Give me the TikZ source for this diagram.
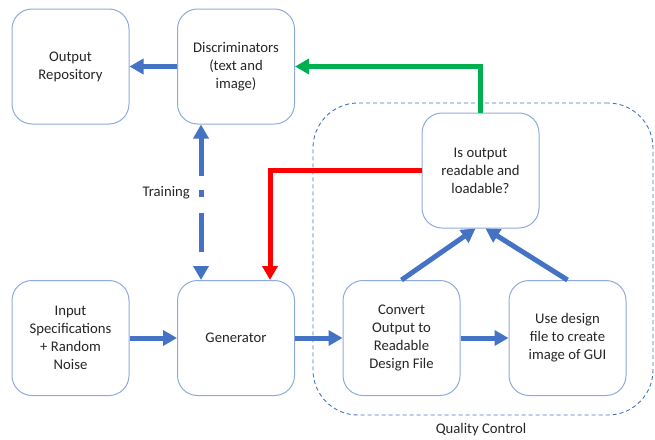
\documentclass[tikz,border=0pt]{standalone}
\usepackage{fontspec}
\setmainfont{Carlito}
\usetikzlibrary{arrows.meta,calc}
\definecolor{boxline}{HTML}{8FAADC}
\definecolor{arrowblue}{HTML}{4472C4}
\definecolor{okgreen}{HTML}{00B050}
\definecolor{badred}{HTML}{FF0000}
\definecolor{txt}{HTML}{262626}
\begin{document}
\begin{tikzpicture}[x=1pt,y=-1pt,
  box/.style={draw=boxline, line width=1pt, fill=white, rounded corners=20pt,
    minimum width=117pt, minimum height=115pt, align=center,
    font=\fontsize{14.7}{18}\selectfont, text=txt, inner sep=2pt},
  lbl/.style={font=\fontsize{14.7}{18}\selectfont, text=txt, inner sep=0pt},
  flow/.style={line width=5pt, -{Triangle[length=14pt,width=15pt]}},
  qcbox/.style={draw=arrowblue, line width=0.9pt, dash pattern=on 4pt off 3pt,
    rounded corners=45pt, minimum width=340pt, minimum height=312pt}
]
\useasboundingbox (0,0) rectangle (655,439);

\node[qcbox] (qc) at (483,259) {};
\node[lbl] (qclabel) at (481,430) {Quality Control};

\node[box] (outrepo) at (70.5,66.5) {Output\\Repository};
\node[box] (disc) at (236,66.5) {Discriminators\\(text and\\image)};
\node[box] (isout) at (480.5,170.5) {Is output\\readable and\\loadable?};
\node[box] (input) at (70.5,338) {Input\\Specifications\\+ Random\\Noise};
\node[box] (gen) at (236,338) {Generator};
\node[box] (conv) at (401.5,338) {Convert\\Output to\\Readable\\Design File};
\node[box] (usedes) at (567.5,338) {Use design\\file to create\\image of GUI};

\node[lbl, anchor=east] (train) at (190,193) {Training};

\draw[flow, arrowblue] (disc.west) -- (outrepo.east);
\draw[flow, okgreen] (isout.north) |- (disc.east);
\draw[flow, badred] (isout.west) -| ([xshift=34pt]gen.north);
\draw[line width=5pt, arrowblue, {Triangle[length=14pt,width=15pt]}-{Triangle[length=14pt,width=15pt]},
  dash pattern=on 38pt off 14pt on 7pt off 16pt on 39pt off 20pt]
  ([xshift=-35pt]disc.south) -- ([xshift=-35pt]gen.north);
\draw[flow, arrowblue] (input.east) -- (gen.west);
\draw[flow, arrowblue] (gen.east) -- (conv.west);
\draw[flow, arrowblue] (conv.east) -- (usedes.west);
\draw[flow, arrowblue] (conv.north) -- ([xshift=-5pt]isout.south);
\draw[flow, arrowblue] (usedes.north) -- ([xshift=5pt]isout.south);
\end{tikzpicture}
\end{document}
